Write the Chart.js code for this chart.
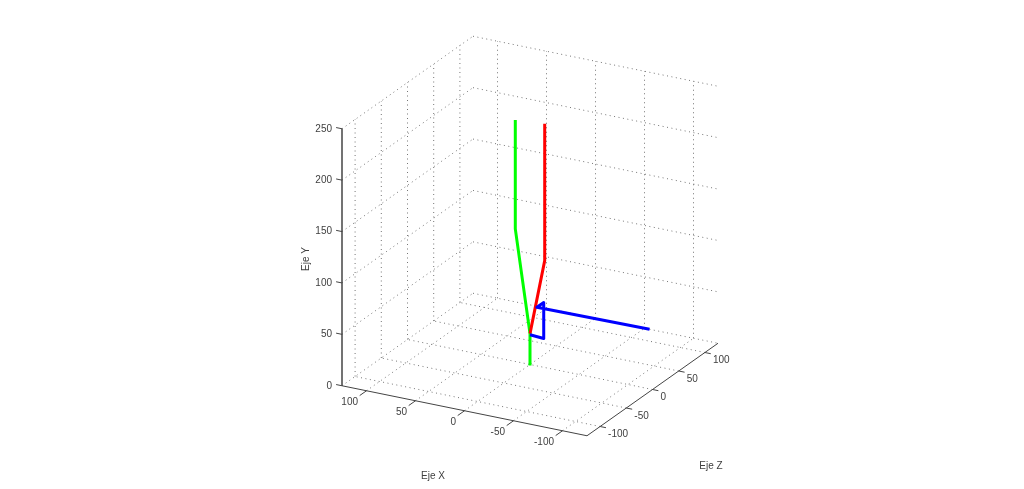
<!DOCTYPE html>
<html>
<head>
<meta charset="utf-8">
<script src="https://cdn.jsdelivr.net/npm/chart.js@4"></script>
<style>
  html, body { margin: 0; padding: 0; background: #fff; }
  canvas { display: block; }
</style>
</head>
<body>
<canvas id="chart" width="1024" height="489"></canvas>
<script>
// tick labels
const xTicks = [100, 50, 0, -50, -100]
const yTicks = [0, 50, 100, 150, 200, 250]
const zTicks = [-100, -50, 0, 50, 100]

// series, values in axis units
const greenX = [0, 0, 15, 15]
const greenY = [-1, 30, 129, 235]
const greenZ = [0, 0, 0, 0]

const redX = [0, -15, -15]
const redY = [30, 104, 237]
const redZ = [0, 0, 0]

const blueX = [0, -14, -14, -7, -122]
const blueY = [29, 28, 63, 57, 58]
const blueZ = [0, 0, 0, 0, 0]

// view of the 3d box on the page
const lim = 125
const yTop = 250
const center = { x: 530, y: 364.5 }
const xDir = { x: -0.98, y: -0.2 }
const zDir = { x: 0.524, y: -0.37 }
const yDir = -1.028

function proj(x, y, z) {
  return {
    x: center.x + x * xDir.x + z * zDir.x,
    y: center.y + x * xDir.y + z * zDir.y + y * yDir
  }
}

function series(xs, ys, zs, color) {
  return {
    data: xs.map((v, i) => proj(v, ys[i], zs[i])),
    borderColor: color,
    borderWidth: 3,
    borderJoinStyle: 'round',
    order: 1
  }
}

function gridLine(a, b) {
  return {
    data: [proj(...a), proj(...b)],
    borderColor: '#757575',
    borderWidth: 1,
    borderDash: [1, 3.5],
    order: 3
  }
}

function axisLine(a, b, width = 1) {
  return {
    data: [proj(...a), proj(...b)],
    borderColor: '#444444',
    borderWidth: width,
    order: 2
  }
}

const datasets = [
  series(blueX, blueY, blueZ, '#0000ff'),
  series(redX, redY, redZ, '#ff0000'),
  series(greenX, greenY, greenZ, '#00ff00')
]

// grid on the floor and the two back walls
xTicks.forEach(x => {
  datasets.push(gridLine([x, 0, -lim], [x, 0, lim]))
  datasets.push(gridLine([x, 0, lim], [x, yTop, lim]))
})
zTicks.forEach(z => {
  datasets.push(gridLine([-lim, 0, z], [lim, 0, z]))
  datasets.push(gridLine([lim, 0, z], [lim, yTop, z]))
})
yTicks.forEach(y => {
  datasets.push(gridLine([lim, y, -lim], [lim, y, lim]))
  datasets.push(gridLine([lim, y, lim], [-lim, y, lim]))
})

// axes and tick marks
datasets.push(axisLine([lim, 0, -lim], [-lim, 0, -lim]))
datasets.push(axisLine([-lim, 0, -lim], [-lim, 0, lim]))
datasets.push(axisLine([lim, 0, -lim], [lim, yTop, -lim], 1.5))
xTicks.forEach(x => datasets.push(axisLine([x, 0, -lim], [x, 0, -lim - 13])))
zTicks.forEach(z => datasets.push(axisLine([-lim, 0, z], [-lim - 6, 0, z])))
yTicks.forEach(y => datasets.push(axisLine([lim, y, -lim], [lim + 6, y, -lim])))

// tick labels and axis names
const labelsPlugin = {
  id: 'labels3d',
  afterDraw(chart) {
    const c = chart.ctx
    const sx = chart.scales.x
    const sy = chart.scales.y
    const put = (text, px, py, align) => {
      c.textAlign = align
      c.fillText(text, sx.getPixelForValue(px), sy.getPixelForValue(py))
    }
    c.save()
    c.font = '10px "Liberation Sans"'
    c.fillStyle = '#404040'
    c.textBaseline = 'middle'
    xTicks.forEach(x => {
      const p = proj(x, 0, -lim)
      put(String(x), p.x - 8.5, p.y + 11.5, 'right')
    })
    zTicks.forEach(z => {
      const p = proj(-lim, 0, z)
      put(String(z), p.x + 8, p.y + 8, 'left')
    })
    yTicks.forEach(y => {
      const p = proj(lim, y, -lim)
      put(String(y), p.x - 10, p.y, 'right')
    })
    put('Eje X', 433, 476, 'center')
    put('Eje Z', 711, 466, 'center')
    c.translate(306, 259)
    c.rotate(-Math.PI / 2)
    c.textAlign = 'center'
    c.fillText('Eje Y', 0, 0)
    c.restore()
  }
}

new Chart(document.getElementById('chart'), {
  type: 'scatter',
  data: { datasets: datasets.map(d => ({ ...d, showLine: true, pointRadius: 0, fill: false })) },
  options: {
    responsive: false,
    animation: false,
    layout: { padding: 0 },
    plugins: {
      legend: { display: false },
      tooltip: { enabled: false }
    },
    scales: {
      x: { type: 'linear', display: false, min: 0, max: 1024 },
      y: { type: 'linear', display: false, min: 0, max: 489, reverse: true }
    }
  },
  plugins: [labelsPlugin]
})
</script>
</body>
</html>
